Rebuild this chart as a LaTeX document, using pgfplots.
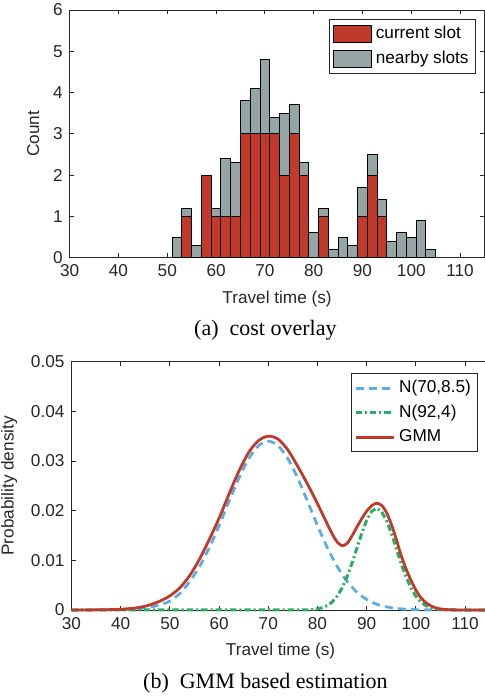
\documentclass[border=0pt]{standalone}
\usepackage{pgfplots}
\pgfplotsset{compat=1.18}
\usepackage{fontspec}
\setmainfont{Liberation Sans}
\newfontfamily\capfont{Liberation Serif}
\definecolor{barred}{HTML}{C0392B}
\definecolor{bargray}{HTML}{95A5A6}
\definecolor{lblue}{HTML}{5DADE2}
\definecolor{lgreen}{HTML}{27AE60}
\definecolor{axgray}{HTML}{262626}
\pgfplotsset{
  matstyle/.style={
    scale only axis,
    axis line style={axgray, line width=0.5pt},
    tick style={axgray, line width=0.5pt},
    major tick length=2.2pt,
    tick align=inside,
    xmin=30, xmax=115, ymin=0,
    xtick={30,40,...,110},
    /pgf/number format/assume math mode=true,
    tick label style={font=\fontsize{8.6}{10}\selectfont, text=axgray},
    label style={font=\fontsize{8.6}{10}\selectfont, text=axgray},
    xlabel={Travel time (s)},
    clip=false,
    legend cell align=left,
    legend style={draw=axgray, fill=white, font=\fontsize{8.6}{10}\selectfont,
      inner sep=1.5pt, row sep=0.6pt},
  }
}
\begin{document}
\begin{tikzpicture}[x=1pt,y=1pt]
% ---------------- (a) histogram ----------------
\begin{axis}[matstyle,
  at={(34.85pt,221.15pt)}, anchor=south west,
  width=207.4pt, height=123.85pt,
  ymax=6, ytick={0,1,2,3,4,5,6},
  ylabel={Count},
  ybar stacked, bar width=2,
  legend style={at={(0.9795,0.9637)}, anchor=north east},
  legend image code/.code={\draw[#1] (0pt,-4.2pt) rectangle (19pt,4.2pt);},
]
\addplot[fill=barred, draw=black, line width=0.5pt] table {
x y
52 0
54 1.0
56 0
58 2.0
60 1.0
62 1.0
64 1.0
66 3.0
68 3.0
70 3.0
72 3.0
74 2.0
76 3.0
78 2.0
80 0
82 1.0
84 0
86 0
88 0
90 1.0
92 2.0
94 1.0
96 0
98 0
100 0
102 0
104 0
};
\addlegendentry{current slot}
\addplot[fill=bargray, draw=black, line width=0.5pt] table {
x y
52 0.5
54 0.2
56 0.3
58 0
60 0.2
62 1.4
64 1.3
66 0.8
68 1.1
70 1.8
72 0.4
74 1.5
76 0.7
78 0.3
80 0.6
82 0.2
84 0.2
86 0.5
88 0.3
90 0.7
92 0.5
94 0.4
96 0.4
98 0.6
100 0.5
102 0.9
104 0.2
};
\addlegendentry{nearby slots}
\end{axis}
% ---------------- (b) GMM ----------------
\begin{axis}[matstyle,
  at={(35.75pt,45pt)}, anchor=south west,
  width=209.1pt, height=124.15pt,
  ymax=0.05, ytick={0,0.01,0.02,0.03,0.04,0.05},
  yticklabels={0,0.01,0.02,0.03,0.04,0.05},
  scaled y ticks=false,
  ylabel={Probability density},
  legend style={at={(0.9727,0.9545)}, anchor=north east},
  legend image code/.code={\draw[#1] (0pt,0pt) -- (19pt,0pt);},
]
\addplot[lblue, line width=1.4pt, dash pattern=on 4pt off 2.6pt, smooth] table {
x y
30 0.0000005
32 0.0000016
34 0.0000043
36 0.0000114
38 0.0000285
40 0.000067
42 0.000150
44 0.000316
46 0.000600
48 0.00105
50 0.00180
52 0.00330
54 0.00570
56 0.00870
58 0.01255
60 0.01702
62 0.02183
64 0.02650
66 0.03044
68 0.03307
70 0.03400
72 0.03307
74 0.03044
76 0.02650
78 0.02183
80 0.01702
82 0.01255
84 0.00876
86 0.00578
88 0.00361
90 0.00213
92 0.00119
94 0.00063
96 0.00032
98 0.00015
100 0.000067
102 0.000028
104 0.000011
106 0.000004
108 0.000002
110 0
115 0
};
\addlegendentry{N(70,8.5)}
\addplot[lgreen, line width=1.5pt, dash pattern=on 3.2pt off 1.5pt on 1pt off 1.5pt] table {
x y
30 0
78 0.00001
80 0.00023
81 0.00047
82 0.00090
83 0.00163
84 0.00277
85 0.00443
86 0.00666
87 0.00938
88 0.01243
89 0.01547
90 0.01809
91 0.01987
92 0.02050
93 0.01987
94 0.01809
95 0.01547
96 0.01243
97 0.00938
98 0.00666
99 0.00443
100 0.00277
101 0.00163
102 0.00090
103 0.00047
104 0.00023
106 0.00004
108 0
115 0
};
\addlegendentry{N(92,4)}
\addplot[barred, line width=1.4pt, smooth] table {
x y
30 0.00000
34 0.00002
38 0.00008
40 0.00015
42 0.00030
44 0.00055
46 0.00105
48 0.00180
50 0.00285
52 0.00445
54 0.00690
56 0.01020
58 0.01420
60 0.01850
62 0.02330
64 0.02790
66 0.03170
68 0.03410
70 0.03500
72 0.03440
74 0.03220
76 0.02890
78 0.02530
80 0.02140
82 0.01730
83 0.01530
84 0.01370
85 0.01295
86 0.01340
87 0.01490
88 0.01670
89 0.01840
90 0.01990
91 0.02100
92 0.02150
93 0.02110
94 0.01970
95 0.01730
96 0.01430
97 0.01100
98 0.00830
99 0.00600
100 0.00400
101 0.00250
102 0.00150
103 0.00085
104 0.00045
105 0.00020
106 0.00010
108 0.00002
110 0
115 0
};
\addlegendentry{GMM}
\end{axis}
\node[font=\capfont\fontsize{11}{13}\selectfont] at (132.7pt,185pt) {(a)\enspace cost overlay};
\node[font=\capfont\fontsize{11}{13}\selectfont] at (132.7pt,8.5pt) {(b)\enspace GMM based estimation};
\pgfresetboundingbox
\path[use as bounding box] (0pt,0pt) rectangle (242pt,350pt);
\end{tikzpicture}
\end{document}
